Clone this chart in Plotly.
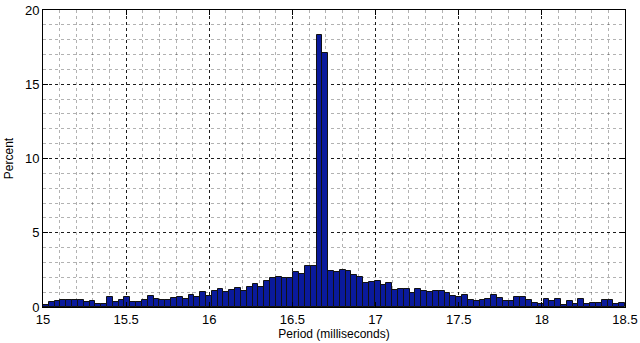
import numpy as np
import plotly.graph_objects as go

# Histogram of measured periods: 100 bins spanning 15.0 - 18.5 ms
bin_start = 15.0
bin_width = 0.035
percent = [
    0.15, 0.34, 0.40, 0.45, 0.49, 0.45, 0.49, 0.31, 0.43, 0.20,
    0.18, 0.65, 0.31, 0.49, 0.67, 0.31, 0.34, 0.45, 0.76, 0.52,
    0.49, 0.45, 0.62, 0.66, 0.57, 0.80, 0.65, 0.99, 0.72, 1.05,
    1.19, 0.98, 1.15, 1.25, 1.08, 1.35, 1.53, 1.35, 1.75, 1.92,
    2.00, 1.93, 1.97, 2.36, 2.23, 2.74, 2.74, 18.34, 17.08, 2.43,
    2.35, 2.52, 2.43, 2.18, 2.05, 1.64, 1.71, 1.74, 1.45, 1.64,
    1.15, 1.19, 1.21, 0.94, 1.19, 1.07, 1.00, 1.08, 1.08, 0.97,
    0.71, 0.70, 0.83, 0.45, 0.40, 0.47, 0.56, 0.78, 0.62, 0.38,
    0.38, 0.65, 0.65, 0.48, 0.29, 0.18, 0.55, 0.42, 0.57, 0.13,
    0.39, 0.23, 0.53, 0.19, 0.30, 0.30, 0.50, 0.44, 0.21, 0.29,
]
x_ticks = [15, 15.5, 16, 16.5, 17, 17.5, 18, 18.5]
x_tick_labels = ["15", "15.5", "16", "16.5", "17", "17.5", "18", "18.5"]
y_ticks = [0, 5, 10, 15, 20]

centers = bin_start + bin_width * (np.arange(len(percent)) + 0.5)

fig = go.Figure(
    go.Bar(
        x=centers,
        y=percent,
        width=bin_width,
        marker=dict(color="#0a1a9c", line=dict(color="#111111", width=1)),
        hoverinfo="x+y",
    )
)

axis_common = dict(
    automargin=False,
    showline=True,
    linecolor="black",
    linewidth=1,
    mirror="ticks",
    ticks="inside",
    ticklen=5,
    tickcolor="black",
    showgrid=True,
    gridcolor="rgba(0,0,0,0.85)",
    griddash="dot",
    gridwidth=1,
    zeroline=False,
    tickfont=dict(family="Liberation Sans, Arial, sans-serif", size=13, color="black"),
)

fig.update_layout(
    width=640,
    height=343,
    margin=dict(l=43, r=15, t=10, b=36),
    paper_bgcolor="white",
    plot_bgcolor="white",
    bargap=0,
    showlegend=False,
    font=dict(family="Liberation Sans, Arial, sans-serif", color="black"),
    xaxis=dict(
        range=[15, 18.5],
        tickvals=x_ticks,
        ticktext=x_tick_labels,
        title=dict(text="Period (milliseconds)", font=dict(size=12), standoff=2),
        minor=dict(dtick=0.1, showgrid=True, gridcolor="rgba(0,0,0,0.3)",
                   griddash="dot", gridwidth=1, ticks=""),
        **axis_common,
    ),
    yaxis=dict(
        range=[0, 20],
        tickvals=y_ticks,
        title=dict(text="Percent", font=dict(size=12), standoff=8),
        minor=dict(dtick=1, showgrid=True, gridcolor="rgba(0,0,0,0.3)",
                   griddash="dot", gridwidth=1, ticks=""),
        **axis_common,
    ),
)

fig.write_html("out.html")
